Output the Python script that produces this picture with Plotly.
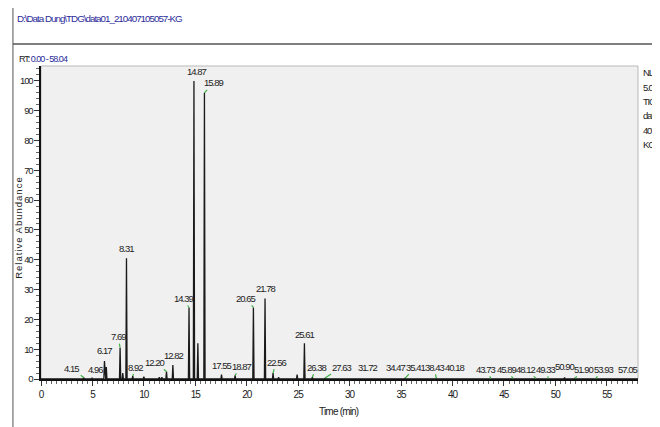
import plotly.graph_objects as go

# Peak retention times (min) and relative abundances (%)
peak_rt = [4.15, 4.96, 6.17, 6.35, 7.69, 7.95, 8.31, 8.92, 10.0, 11.5, 11.75, 12.20, 12.82,
           14.39, 14.87, 15.25, 15.89, 17.55, 18.87, 20.65, 21.78, 22.56, 23.1, 24.9,
           25.61, 26.38, 27.63, 31.72, 34.47, 35.41, 38.43, 40.18, 43.73, 45.89, 48.12,
           49.33, 50.90, 51.90, 53.93, 57.05]
peak_h = [0.5, 0.3, 6.0, 4.0, 10.5, 2.0, 40.5, 1.0, 0.8, 0.6, 0.6, 2.5, 4.7,
          24.0, 100.0, 12.0, 96.0, 1.5, 1.2, 24.0, 27.0, 2.0, 0.6, 1.5,
          12.0, 0.6, 0.3, 0.2, 0.2, 0.3, 0.2, 0.2, 0.2, 0.2, 0.2,
          0.2, 0.5, 0.2, 0.2, 0.2]
labeled_rt = [4.15, 4.96, 6.17, 7.69, 8.31, 8.92, 12.20, 12.82, 14.39, 14.87, 15.89,
              17.55, 18.87, 20.65, 21.78, 22.56, 25.61, 26.38, 27.63, 31.72, 34.47,
              35.41, 38.43, 40.18, 43.73, 45.89, 48.12, 49.33, 50.90, 51.90, 53.93, 57.05]
# label placement relative to the peak apex (pixels) and whether a green leader is drawn
label_ax = [-12, 3, 0, -2, 0, 3, -12, 1, -6, 3, 9, 0, 6, -8, 0, 3, 0, 4, 16, 0, 0,
            10, -2, 0, -5, -7, -10, -3, 0, 9, 8, 0]
label_ay = [-9, -9, -11, -11, -10, -9, -9, -9, -9, -9, -10, -9, -9, -9, -10, -11, -9, -10, -11,
            -11, -11, -11, -11, -11, -9, -9, -9, -9, -11, -9, -9, -9]
label_leader = [1, 0, 0, 1, 0, 1, 1, 0, 1, 0, 1, 0, 1, 1, 0, 1, 0, 1, 1, 0, 0,
                1, 1, 0, 1, 1, 1, 1, 0, 1, 1, 0]
x_ticks = [0, 5, 10, 15, 20, 25, 30, 35, 40, 45, 50, 55]
y_ticks = [0, 10, 20, 30, 40, 50, 60, 70, 80, 90, 100]
rt_range = [0.0, 58.04]
side_lines = ["NL:", "5.03E7", "TIC  MS", "data01_", "4071050", "KG"]

half_w = 0.06
xs, ys = [rt_range[0]], [0.0]
for rt, h in sorted(zip(peak_rt, peak_h)):
    xs += [rt - half_w, rt, rt + half_w]
    ys += [0.0, h, 0.0]
xs.append(rt_range[1])
ys.append(0.0)

FONT = "Liberation Sans, Arial, sans-serif"


def tight(s, ls):
    return f"<span style='letter-spacing:{ls}px'>{s}</span>"


fig = go.Figure()
fig.add_trace(go.Scatter(x=xs, y=ys, mode="lines",
                         line=dict(color="#1a1a1a", width=1.3), hoverinfo="skip",
                         showlegend=False))

h_lookup = dict(zip(peak_rt, peak_h))
for rt, ax, ay, lead in zip(labeled_rt, label_ax, label_ay, label_leader):
    fig.add_annotation(x=rt, y=h_lookup[rt], text=tight(f"{rt:.2f}", -1.0),
                       showarrow=True, arrowhead=0, ax=ax, ay=ay, standoff=0,
                       arrowwidth=1.2 if lead else 0.1,
                       arrowcolor="#3cb043" if lead else "rgba(0,0,0,0)",
                       font=dict(family=FONT, size=9.5, color="#222"))

# The page body adds an 8px offset, so the figure is sized to fill the 660x427 window.
fig.update_layout(
    width=652, height=419,
    margin=dict(l=33, r=22, t=58, b=48),
    paper_bgcolor="white", plot_bgcolor="#f0f0f0",
    xaxis=dict(range=rt_range, tickvals=x_ticks,
               ticktext=[tight(str(v), -1.0) for v in x_ticks],
               ticks="outside", ticklen=5, tickcolor="#333", showgrid=False,
               zeroline=False, showline=True, linecolor="#111", linewidth=2,
               minor=dict(dtick=0.5, ticks="outside", ticklen=3, tickcolor="#666"),
               tickfont=dict(family=FONT, size=10, color="#222"), automargin=False),
    yaxis=dict(range=[0, 105], tickvals=y_ticks,
               ticktext=[tight(str(v), -1.2) for v in y_ticks],
               ticks="outside", ticklen=5, tickcolor="#333", showgrid=False,
               zeroline=False, showline=True, linecolor="#111", linewidth=1.5,
               minor=dict(dtick=2, ticks="outside", ticklen=3, tickcolor="#666"),
               tickfont=dict(family=FONT, size=9.5, color="#222"), automargin=False),
)

# plot frame
fig.add_shape(type="rect", xref="paper", yref="paper", x0=0, x1=1, y0=0, y1=1,
              line=dict(color="#b8b8b8", width=1), layer="below")
# outer panel lines
fig.add_shape(type="line", xref="paper", yref="paper", x0=-0.047, x1=1.04, y0=1.07, y1=1.07,
              line=dict(color="#555", width=1.5))
fig.add_shape(type="line", xref="paper", yref="paper", x0=-0.047, x1=-0.047, y0=-0.16, y1=1.22,
              line=dict(color="#555", width=1))

# axis titles
fig.add_annotation(xref="paper", yref="paper", x=-0.05, y=0.485, textangle=-90,
                   showarrow=False, text=tight("Relative Abundance", 1.0),
                   font=dict(family=FONT, size=9.5, color="#222"))
fig.add_annotation(xref="paper", yref="paper", x=0.499, y=-0.128, showarrow=False,
                   text=tight("Time (min)", -0.8),
                   font=dict(family=FONT, size=10, color="#222"))

fig.add_annotation(xref="paper", yref="paper", x=-0.043, y=1.153, xanchor="left",
                   yanchor="middle", showarrow=False,
                   text=tight("D:\\Data Dung\\TDG\\data01_210407105057-KG", -1.0),
                   font=dict(family=FONT, size=9.8, color="#2b2b9a"))
fig.add_annotation(xref="paper", yref="paper", x=-0.041, y=1.023, xanchor="left",
                   yanchor="middle", showarrow=False,
                   text=tight("RT: <span style='color:#2b2b9a'>0.00 - 58.04</span>", -1.0),
                   font=dict(family=FONT, size=9, color="#222"))
for i, line in enumerate(side_lines):
    fig.add_annotation(xref="paper", yref="paper", x=1.005, y=0.978 - i * 0.0457,
                       xanchor="left", yanchor="middle", showarrow=False,
                       text=tight(line, -1.2),
                       font=dict(family=FONT, size=9.5, color="#222"))

fig.write_html("out.html")
